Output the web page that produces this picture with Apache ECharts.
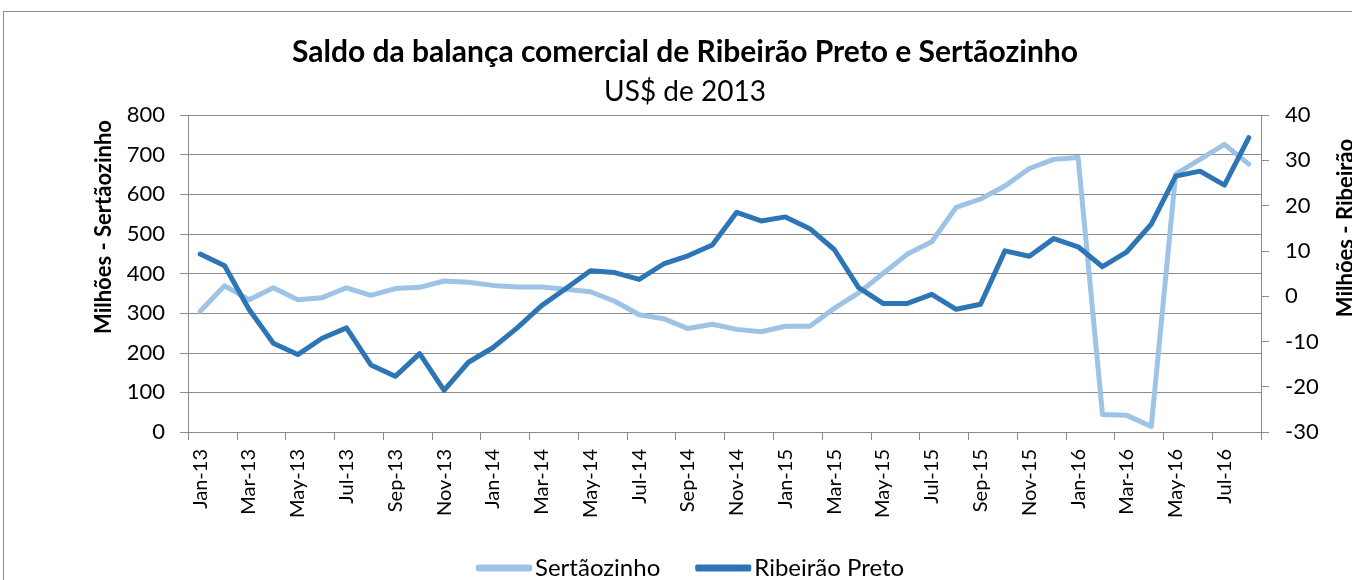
<!DOCTYPE html>
<html>
<head>
<meta charset="utf-8">
<script src="https://cdn.jsdelivr.net/npm/echarts@6/dist/echarts.min.js"></script>
<style>
  html, body { margin: 0; padding: 0; background: #fff; overflow: hidden; }
  #frame { position: absolute; left: 3px; top: 11px; width: 1400px; height: 600px; border: 1px solid #8c8c8c; }
  #chart { position: absolute; left: 0; top: 0; width: 1352px; height: 580px; }
</style>
</head>
<body>
<div id="frame"></div>
<div id="chart"></div>
<script>
// meses (Jan-13 .. Aug-16)
var months = [
  'Jan-13','Feb-13','Mar-13','Apr-13','May-13','Jun-13','Jul-13','Aug-13','Sep-13','Oct-13','Nov-13','Dec-13',
  'Jan-14','Feb-14','Mar-14','Apr-14','May-14','Jun-14','Jul-14','Aug-14','Sep-14','Oct-14','Nov-14','Dec-14',
  'Jan-15','Feb-15','Mar-15','Apr-15','May-15','Jun-15','Jul-15','Aug-15','Sep-15','Oct-15','Nov-15','Dec-15',
  'Jan-16','Feb-16','Mar-16','Apr-16','May-16','Jun-16','Jul-16','Aug-16'
];

// eixo esquerdo, milhões
var sertaozinho = [
  305, 369, 334, 364, 334, 339, 364, 345, 362, 365, 381, 378,
  370, 366, 366, 360, 354, 330, 296, 286, 261, 272, 259, 253,
  267, 267, 312, 351, 400, 449, 480, 567, 588, 621, 665, 688,
  693, 44, 42, 14, 651, 688, 726, 676
];

// eixo direito, milhões
var ribeiraoPreto = [
  9.3, 6.7, -2.9, -10.4, -12.9, -9.3, -7.0, -15.2, -17.7, -12.7, -20.8, -14.6,
  -11.4, -7.0, -2.1, 1.7, 5.6, 5.2, 3.7, 7.1, 8.9, 11.3, 18.5, 16.6,
  17.5, 14.9, 10.3, 1.9, -1.6, -1.6, 0.4, -2.9, -1.8, 10.0, 8.8, 12.7,
  10.9, 6.5, 9.8, 15.9, 26.5, 27.6, 24.5, 35.0
];

var chart = echarts.init(document.getElementById('chart'), null, { renderer: 'canvas' });

var gridColor = '#8c8c8c';
var font = 'Lato, "Open Sans", sans-serif';

var option = {
  animation: false,
  title: {
    text: 'Saldo da balança comercial de Ribeirão Preto e Sertãozinho',
    subtext: 'US$ de 2013',
    left: 685,
    textAlign: 'center',
    top: 34,
    padding: 0,
    itemGap: 5,
    textStyle: { fontFamily: font, fontWeight: 'bold', fontSize: 30, lineHeight: 36, color: '#000' },
    subtextStyle: { fontFamily: font, fontSize: 28, lineHeight: 34, color: '#000' }
  },
  legend: {
    left: 471,
    top: 551,
    icon: 'roundRect',
    itemWidth: 56,
    itemHeight: 7,
    itemGap: 35,
    textStyle: { fontFamily: font, fontSize: 24, color: '#000', padding: [0, 0, 0, -2] },
    data: ['Sertãozinho', 'Ribeirão Preto']
  },
  grid: { left: 188, right: 91, top: 115, bottom: 148, containLabel: false },
  xAxis: {
    type: 'category',
    data: months,
    boundaryGap: true,
    axisLine: { lineStyle: { color: gridColor, width: 1 } },
    axisTick: { show: true, interval: 1, length: 8, lineStyle: { color: gridColor } },
    axisLabel: {
      interval: 1,
      rotate: 90,
      margin: 17,
      fontFamily: font,
      fontSize: 20,
      color: '#000'
    },
    splitLine: { show: false }
  },
  yAxis: [
    {
      type: 'value',
      min: 0,
      max: 800,
      interval: 100,
      position: 'left',
      axisLine: { show: true, lineStyle: { color: gridColor } },
      axisTick: { show: true, length: 8, lineStyle: { color: gridColor } },
      axisLabel: { margin: 23, fontFamily: font, fontSize: 22, color: '#000' },
      splitLine: { show: true, lineStyle: { color: gridColor, width: 1 } }
    },
    {
      type: 'value',
      min: -30,
      max: 40,
      interval: 10,
      position: 'right',
      axisLine: { show: true, lineStyle: { color: gridColor } },
      axisTick: { show: true, length: 8, lineStyle: { color: gridColor } },
      axisLabel: { margin: 24, fontFamily: font, fontSize: 22, color: '#000' },
      splitLine: { show: false }
    }
  ],
  graphic: [
    {
      type: 'text',
      x: 104,
      y: 227,
      rotation: Math.PI / 2,
      style: {
        text: 'Milhões - Sertãozinho',
        font: 'bold 22px ' + font,
        fill: '#000',
        align: 'center',
        verticalAlign: 'middle'
      }
    },
    {
      // o título do eixo direito quebra em duas linhas; a segunda fica fora da área
      type: 'text',
      x: 1333,
      y: 228,
      rotation: Math.PI / 2,
      style: {
        text: 'Milhões - Ribeirão\nPreto',
        font: 'bold 22px ' + font,
        lineHeight: 26,
        fill: '#000',
        align: 'center',
        verticalAlign: 'top'
      }
    }
  ],
  series: [
    {
      name: 'Sertãozinho',
      type: 'line',
      yAxisIndex: 0,
      data: sertaozinho,
      showSymbol: false,
      symbol: 'none',
      color: '#9dc3e6',
      lineStyle: { width: 5, color: '#9dc3e6', cap: 'round', join: 'round' }
    },
    {
      name: 'Ribeirão Preto',
      type: 'line',
      yAxisIndex: 1,
      data: ribeiraoPreto,
      showSymbol: false,
      symbol: 'none',
      color: '#2e75b6',
      lineStyle: { width: 5, color: '#2e75b6', cap: 'round', join: 'round' }
    }
  ]
};

chart.setOption(option);
</script>
</body>
</html>
